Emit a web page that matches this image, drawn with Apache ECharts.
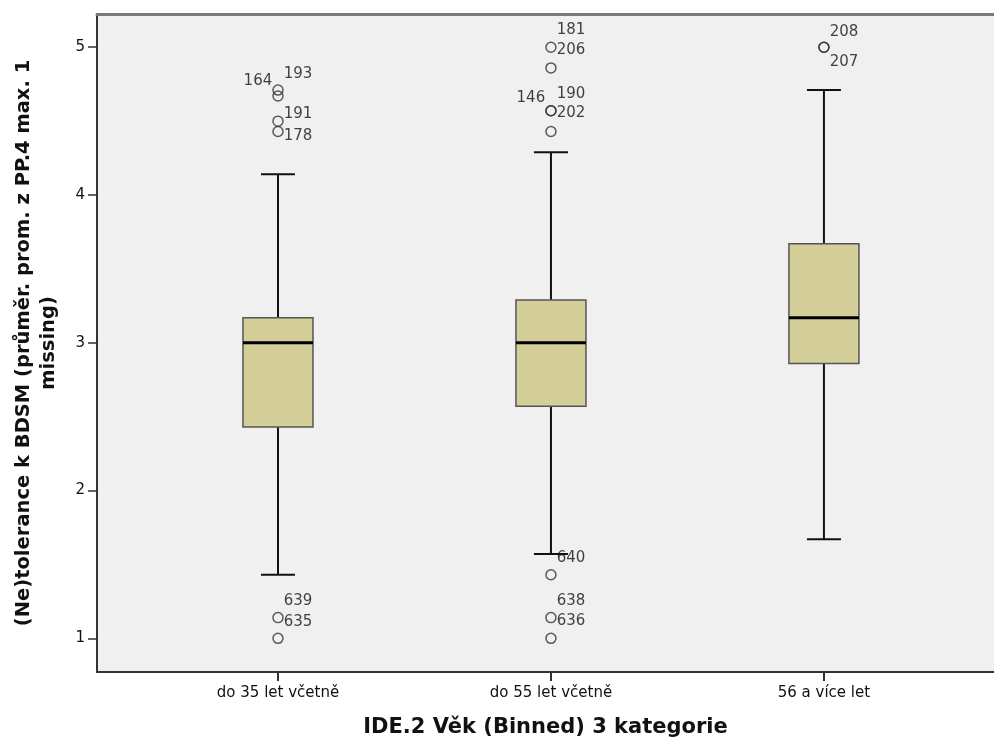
<!DOCTYPE html>
<html>
<head>
<meta charset="utf-8">
<script src="https://cdn.jsdelivr.net/npm/echarts@6/dist/echarts.min.js"></script>
<style>
html,body{margin:0;padding:0;background:#fff;}
#chart{width:994px;height:740px;}
</style>
</head>
<body>
<div id="chart"></div>
<script>
// ---- data ----
const categories = ['do 35 let včetně', 'do 55 let včetně', '56 a více let'];
// [min whisker, Q1, median, Q3, max whisker]
const boxMin    = [1.43, 1.57, 1.67];
const boxQ1     = [2.43, 2.57, 2.86];
const boxMedian = [3.00, 3.00, 3.17];
const boxQ3     = [3.17, 3.29, 3.67];
const boxMax    = [4.14, 4.29, 4.71];
// outliers per category
const outlierValues = [
  [4.71, 4.67, 4.50, 4.43, 1.14, 1.00],
  [5.00, 4.86, 4.57, 4.57, 4.43, 1.43, 1.14, 1.00],
  [5.00, 5.00]
];
const outlierIds = [
  ['193', '164', '191', '178', '639', '635'],
  ['181', '206', '146', '190', '202', '640', '638', '636'],
  ['208', '207']
];
const yTicks = [1, 2, 3, 4, 5];
const yTitle = '(Ne)tolerance k BDSM (průměr. prom. z PP.4 max. 1\nmissing)';
const xTitle = 'IDE.2 Věk (Binned) 3 kategorie';

// ---- label placement (style only) ----
const labelPlace = {
  '193': ['right', -16], '164': ['left', -15], '191': ['right', -7], '178': ['right', 5],
  '639': ['right', -17], '635': ['right', -16],
  '181': ['right', -17], '206': ['right', -18], '146': ['left', -13], '190': ['right', -17],
  '202': ['right', -18], '640': ['right', -17], '638': ['right', -17], '636': ['right', -17],
  '208': ['right', -15], '207': ['right', 15]
};

const FONT = '"DejaVu Sans", Verdana, sans-serif';

const boxData = categories.map((c, i) => [i, boxMin[i], boxQ1[i], boxMedian[i], boxQ3[i], boxMax[i]]);
const outlierData = [];
outlierValues.forEach((vals, ci) => {
  vals.forEach((v, k) => {
    const id = outlierIds[ci][k];
    const pl = labelPlace[id] || ['right', -17];
    outlierData.push({
      value: [ci, v],
      name: id,
      label: { show: true, position: pl[0], distance: 0, offset: [0, pl[1]], formatter: id }
    });
  });
});

const X_MIN = -0.663, X_MAX = 2.623;

const chart = echarts.init(document.getElementById('chart'), null, { renderer: 'canvas' });
chart.setOption({
  animation: false,
  backgroundColor: '#ffffff',
  grid: {
    left: 97, top: 14, right: 0, bottom: 68,
    outerBoundsMode: 'none',
    containLabel: false,
    show: true, backgroundColor: '#f0f0f0', borderWidth: 0
  },
  xAxis: [{
    type: 'value',
    min: X_MIN, max: X_MAX,
    position: 'bottom',
    name: xTitle,
    nameLocation: 'middle',
    nameGap: 45,
    nameTextStyle: { fontFamily: FONT, fontSize: 21, fontWeight: 'bold', color: '#111' },
    axisLine: { show: true, onZero: false, lineStyle: { color: '#333', width: 2 } },
    axisTick: { show: true, length: 9, customValues: [0, 1, 2], lineStyle: { color: '#333', width: 2 } },
    axisLabel: {
      customValues: [0, 1, 2], margin: 14,
      fontFamily: FONT, fontSize: 15, color: '#111',
      formatter: v => categories[Math.round(v)] || ''
    },
    splitLine: { show: false }
  }, {
    type: 'value',
    min: X_MIN, max: X_MAX,
    position: 'top',
    axisLine: { show: true, onZero: false, lineStyle: { color: '#7a7a7a', width: 3 } },
    axisTick: { show: false },
    axisLabel: { show: false },
    splitLine: { show: false }
  }],
  yAxis: {
    type: 'value',
    min: 0.772, max: 5.225,
    name: yTitle,
    nameLocation: 'middle',
    nameGap: 36,
    nameRotate: 90,
    nameTextStyle: { fontFamily: FONT, fontSize: 19.5, fontWeight: 'bold', color: '#111', lineHeight: 25, align: 'center' },
    axisLine: { show: true, onZero: false, lineStyle: { color: '#333', width: 2 } },
    axisTick: { show: true, length: 9, customValues: yTicks, lineStyle: { color: '#333', width: 1.5 } },
    axisLabel: { customValues: yTicks, margin: 12, fontFamily: FONT, fontSize: 15, color: '#111' },
    splitLine: { show: false }
  },
  series: [
    {
      type: 'custom',
      data: boxData,
      encode: { x: 0, y: [1, 2, 3, 4, 5] },
      renderItem: function (params, api) {
        const x = api.value(0);
        const pMin = api.coord([x, api.value(1)]);
        const pQ1 = api.coord([x, api.value(2)]);
        const pMed = api.coord([x, api.value(3)]);
        const pQ3 = api.coord([x, api.value(4)]);
        const pMax = api.coord([x, api.value(5)]);
        const cx = pMed[0];
        const hw = 35, cw = 17;
        const black = { stroke: '#111', lineWidth: 2 };
        return {
          type: 'group',
          children: [
            { type: 'line', shape: { x1: cx, y1: pMax[1], x2: cx, y2: pQ3[1] }, style: black },
            { type: 'line', shape: { x1: cx, y1: pQ1[1], x2: cx, y2: pMin[1] }, style: black },
            { type: 'line', shape: { x1: cx - cw, y1: pMax[1], x2: cx + cw, y2: pMax[1] }, style: black },
            { type: 'line', shape: { x1: cx - cw, y1: pMin[1], x2: cx + cw, y2: pMin[1] }, style: black },
            { type: 'rect', shape: { x: cx - hw, y: pQ3[1], width: 2 * hw, height: pQ1[1] - pQ3[1] },
              style: { fill: '#d4cf98', stroke: '#555', lineWidth: 1.5 } },
            { type: 'line', shape: { x1: cx - hw, y1: pMed[1], x2: cx + hw, y2: pMed[1] },
              style: { stroke: '#000', lineWidth: 3 } }
          ]
        };
      },
      z: 2
    },
    {
      type: 'scatter',
      data: outlierData,
      symbol: 'circle',
      symbolSize: 10,
      itemStyle: { color: 'rgba(240,240,240,0)', borderColor: '#333', borderWidth: 1.5 },
      label: { fontFamily: FONT, fontSize: 15, color: '#111' },
      z: 3
    }
  ]
});
</script>
</body>
</html>
